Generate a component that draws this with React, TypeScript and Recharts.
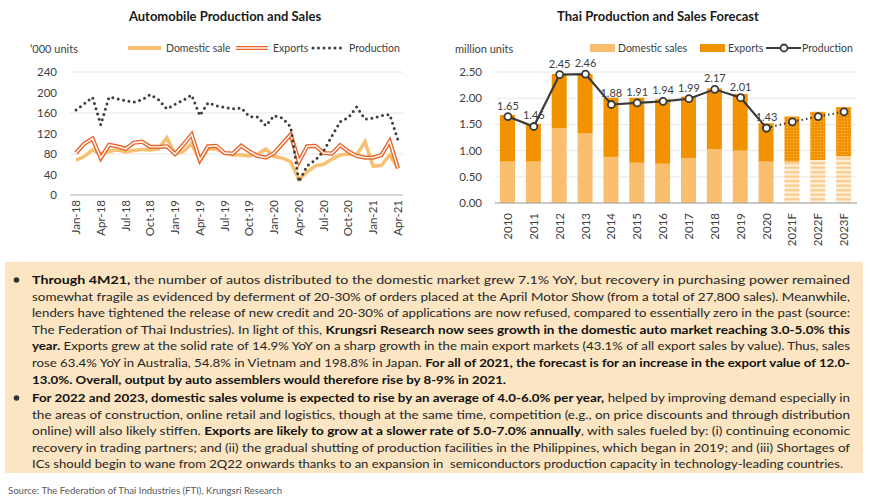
import React from 'react';
import {
  LineChart,
  Line,
  XAxis,
  YAxis,
  CartesianGrid,
  ComposedChart,
  Bar,
  Cell,
  LabelList,
} from 'recharts';

const FONT = "Lato, 'Open Sans', sans-serif";
const INK = '#404040';

// ---- left chart: monthly, '000 units
const months = [
  'Jan-18', 'Feb-18', 'Mar-18', 'Apr-18', 'May-18', 'Jun-18', 'Jul-18', 'Aug-18', 'Sep-18', 'Oct-18', 'Nov-18', 'Dec-18',
  'Jan-19', 'Feb-19', 'Mar-19', 'Apr-19', 'May-19', 'Jun-19', 'Jul-19', 'Aug-19', 'Sep-19', 'Oct-19', 'Nov-19', 'Dec-19',
  'Jan-20', 'Feb-20', 'Mar-20', 'Apr-20', 'May-20', 'Jun-20', 'Jul-20', 'Aug-20', 'Sep-20', 'Oct-20', 'Nov-20', 'Dec-20',
  'Jan-21', 'Feb-21', 'Mar-21', 'Apr-21',
];
const domesticSale = [
  68, 75, 88, 80, 85, 88, 84, 87, 89, 88, 90, 112,
  80, 85, 100, 66, 90, 90, 82, 78, 78, 76, 80, 90,
  75, 72, 65, 30, 45, 57, 60, 70, 78, 80, 78, 104,
  56, 58, 78, 52,
];
const exportsMonthly = [
  82, 100, 110, 72, 98, 95, 90, 102, 104, 94, 94, 95,
  80, 98, 118, 68, 95, 96, 82, 81, 96, 85, 76, 73,
  82, 100, 118, 65, 95, 96, 82, 81, 97, 85, 76, 73,
  73, 78, 105, 52,
];
const productionMonthly = [
  166, 178, 191, 137, 191, 188, 184, 181, 186, 196, 186, 168,
  177, 185, 195, 155, 180, 174, 171, 168, 170, 153, 152, 135,
  155, 150, 133, 26, 57, 68, 86, 115, 143, 151, 172, 148,
  150, 155, 157, 107,
];
const leftTicks = [0, 40, 80, 120, 160, 200, 240];

// ---- right chart: yearly, million units
const years = ['2010', '2011', '2012', '2013', '2014', '2015', '2016', '2017', '2018', '2019', '2020', '2021F', '2022F', '2023F'];
const forecastYears = ['2021F', '2022F', '2023F'];
const domesticSales = [0.79, 0.79, 1.43, 1.33, 0.88, 0.77, 0.75, 0.86, 1.03, 1.0, 0.79, 0.79, 0.82, 0.89];
const exportsYearly = [0.89, 0.72, 1.03, 1.13, 1.13, 1.24, 1.23, 1.17, 1.16, 1.08, 0.73, 0.86, 0.92, 0.94];
const productionActual = [1.65, 1.46, 2.45, 2.46, 1.88, 1.91, 1.94, 1.99, 2.17, 2.01, 1.43, null, null, null];
const productionForecast = [null, null, null, null, null, null, null, null, null, null, 1.43, 1.55, 1.65, 1.74];
const rightTicks = [0, 0.5, 1, 1.5, 2, 2.5];

const monthlyData = months.map((m, i) => ({
  month: m,
  domestic: domesticSale[i],
  exports: exportsMonthly[i],
  production: productionMonthly[i],
}));

const yearlyData = years.map((y, i) => ({
  year: y,
  domestic: domesticSales[i],
  exports: exportsYearly[i],
  prod: productionActual[i],
  prodF: productionForecast[i],
}));

// ---- commentary text, one entry per printed line
type Seg = [string, boolean];
const para1: Seg[][] = [
  [['Through 4M21,', true], [' the number of autos distributed to the domestic market grew 7.1% YoY, but recovery in purchasing power remained', false]],
  [['somewhat fragile as evidenced by deferment of 20-30% of orders placed at the April Motor Show (from a total of 27,800 sales). Meanwhile,', false]],
  [['lenders have tightened the release of new credit and 20-30% of applications are now refused, compared to essentially zero in the past (source:', false]],
  [['The Federation of Thai Industries). In light of this, ', false], ['Krungsri Research now sees growth in the domestic auto market reaching 3.0-5.0% this', true]],
  [['year.', true], [' Exports grew at the solid rate of 14.9% YoY on a sharp growth in the main export markets (43.1% of all export sales by value). Thus, sales', false]],
  [['rose 63.4% YoY in Australia, 54.8% in Vietnam and 198.8% in Japan. ', false], ['For all of 2021, the forecast is for an increase in the export value of 12.0-', true]],
  [['13.0%. Overall, output by auto assemblers would therefore rise by 8-9% in 2021.', true]],
];
const para2: Seg[][] = [
  [['For 2022 and 2023, domestic sales volume is expected to rise by an average of 4.0-6.0% per year,', true], [' helped by improving demand especially in', false]],
  [['the areas of construction, online retail and logistics, though at the same time, competition (e.g., on price discounts and through distribution', false]],
  [['online) will also likely stiffen. ', false], ['Exports are likely to grow at a slower rate of 5.0-7.0% annually', true], [', with sales fueled by: (i) continuing economic', false]],
  [['recovery in trading partners; and (ii) the gradual shutting of production facilities in the Philippines, which began in 2019; and (iii) Shortages of', false]],
  [['ICs should begin to wane from 2Q22 onwards thanks to an expansion in  semiconductors production capacity in technology-leading countries.', false]],
];

function RotatedTick(props: any) {
  const { x, y, payload } = props;
  return (
    <text
      x={x}
      y={y}
      transform={`rotate(-90 ${x} ${y})`}
      textAnchor="end"
      dy="0.35em"
      fontSize={11.5}
      fill={INK}
      fontFamily={FONT}
    >
      {payload.value}
    </text>
  );
}

// plain marker so the dashed forecast line does not dash the circle outline
function Marker(props: any) {
  const { cx, cy } = props;
  if (cx == null || cy == null) return null;
  return <circle cx={cx} cy={cy} r={3.5} fill="#fff" stroke="#3a3a3a" strokeWidth={1.8} />;
}

const abs = (left: number, top: number): React.CSSProperties => ({
  position: 'absolute',
  left,
  top,
  fontFamily: FONT,
  color: INK,
  whiteSpace: 'nowrap',
});

function LeftLegend() {
  return (
    <svg style={{ position: 'absolute', left: 0, top: 38 }} width={435} height={20}>
      <line x1={128} y1={10} x2={161} y2={10} stroke="#F8C070" strokeWidth={4} />
      <text x={166} y={13.5} fontSize={10.5} fill={INK} fontFamily={FONT}>Domestic sale</text>
      <line x1={236} y1={10} x2={268} y2={10} stroke="#E8672D" strokeWidth={4} />
      <line x1={236} y1={10} x2={268} y2={10} stroke="#fff" strokeWidth={1.4} />
      <text x={273} y={13.5} fontSize={10.5} fill={INK} fontFamily={FONT}>Exports</text>
      <line x1={313} y1={10} x2={342} y2={10} stroke="#3d3d3d" strokeWidth={3} strokeDasharray="0 5.5" strokeLinecap="round" />
      <text x={349} y={13.5} fontSize={10.5} fill={INK} fontFamily={FONT}>Production</text>
    </svg>
  );
}

function RightLegend() {
  return (
    <svg style={{ position: 'absolute', left: 435, top: 38 }} width={435} height={20}>
      <rect x={155} y={6} width={25} height={8} fill="#F9BE6E" />
      <text x={183} y={13.5} fontSize={10.5} fill={INK} fontFamily={FONT}>Domestic sales</text>
      <rect x={265} y={6} width={25} height={8} fill="#F39200" />
      <text x={293} y={13.5} fontSize={10.5} fill={INK} fontFamily={FONT}>Exports</text>
      <line x1={331} y1={10} x2={366} y2={10} stroke="#3a3a3a" strokeWidth={2.2} />
      <circle cx={349} cy={10} r={3.5} fill="#fff" stroke="#3a3a3a" strokeWidth={1.8} />
      <text x={367} y={13.5} fontSize={10.5} fill={INK} fontFamily={FONT}>Production</text>
    </svg>
  );
}

function AutoChart() {
  return (
    <div style={{ position: 'absolute', left: 0, top: 0 }}>
      <LineChart
        width={435}
        height={260}
        data={monthlyData}
        margin={{ top: 72, right: 32, left: 20, bottom: 15 }}
      >
        <CartesianGrid vertical={false} stroke="#e6e6e6" />
        <XAxis
          dataKey="month"
          interval={2}
          tick={<RotatedTick />}
          tickLine={false}
          tickSize={0}
          tickMargin={5}
          height={50}
          axisLine={{ stroke: '#bfbfbf' }}
          padding={{ left: 6, right: 5 }}
        />
        <YAxis
          domain={[0, 240]}
          ticks={leftTicks}
          width={50}
          axisLine={false}
          tickLine={false}
          tickSize={0}
          tickMargin={13}
          tick={{ fontSize: 11.5, fill: INK, fontFamily: FONT }}
        />
        <Line dataKey="domestic" stroke="#F8C070" strokeWidth={3.5} dot={false} isAnimationActive={false} />
        <Line dataKey="exports" stroke="#E8672D" strokeWidth={4.2} dot={false} isAnimationActive={false} />
        <Line dataKey="exports" stroke="#ffffff" strokeWidth={1.4} dot={false} isAnimationActive={false} />
        <Line
          dataKey="production"
          stroke="#3d3d3d"
          strokeWidth={3}
          strokeDasharray="0 5.5"
          strokeLinecap="round"
          dot={false}
          isAnimationActive={false}
        />
      </LineChart>
    </div>
  );
}

function ForecastChart() {
  const fmt = (v: any) => (v == null ? '' : Number(v).toFixed(2));
  return (
    <div style={{ position: 'absolute', left: 435, top: 0 }}>
      <ComposedChart
        width={435}
        height={260}
        data={yearlyData}
        margin={{ top: 72, right: 13, left: 15, bottom: 7 }}
        barSize={15}
      >
        <defs>
          <pattern id="domHatch" width={6} height={4.5} patternUnits="userSpaceOnUse">
            <rect width={6} height={4.5} fill="#FDF1DF" />
            <rect width={6} height={2.4} fill="#F9CD8F" />
          </pattern>
          <pattern id="expDots" width={3} height={3} patternUnits="userSpaceOnUse">
            <rect width={3} height={3} fill="#F39200" />
            <circle cx={1.5} cy={1.5} r={0.6} fill="#FAC56E" />
          </pattern>
        </defs>
        <CartesianGrid vertical={false} stroke="#e8e8e8" />
        <XAxis
          dataKey="year"
          interval={0}
          tick={<RotatedTick />}
          tickLine={false}
          tickSize={0}
          tickMargin={10}
          height={50}
          axisLine={{ stroke: '#a0a0a0' }}
        />
        <YAxis
          domain={[0, 2.5]}
          ticks={rightTicks}
          width={45}
          axisLine={false}
          tickLine={false}
          tickSize={0}
          tickMargin={13}
          tickFormatter={(v: number) => v.toFixed(2)}
          tick={{ fontSize: 11.5, fill: INK, fontFamily: FONT }}
        />
        <Bar dataKey="domestic" stackId="s" isAnimationActive={false}>
          {yearlyData.map((d) => (
            <Cell key={d.year} fill={forecastYears.includes(d.year) ? 'url(#domHatch)' : '#F9BE6E'} />
          ))}
        </Bar>
        <Bar dataKey="exports" stackId="s" isAnimationActive={false}>
          {yearlyData.map((d) => (
            <Cell key={d.year} fill={forecastYears.includes(d.year) ? 'url(#expDots)' : '#F39200'} />
          ))}
        </Bar>
        <Line
          dataKey="prodF"
          stroke="#3a3a3a"
          strokeWidth={2}
          strokeDasharray="1.5 3"
          dot={<Marker />}
          isAnimationActive={false}
        />
        <Line
          dataKey="prod"
          stroke="#3a3a3a"
          strokeWidth={2.2}
          dot={<Marker />}
          isAnimationActive={false}
        >
          <LabelList
            dataKey="prod"
            position="top"
            offset={7}
            formatter={fmt}
            style={{ fontSize: 11, fill: INK, fontFamily: FONT }}
          />
        </Line>
      </ComposedChart>
    </div>
  );
}

function Commentary() {
  const lineH = 16.6;
  const renderPara = (lines: Seg[][], baseY: number, lastWidth: number) =>
    lines.map((segs, i) => {
      const last = i === lines.length - 1;
      return (
        <text
          key={i}
          x={32}
          y={baseY + i * lineH}
          textLength={last ? lastWidth : 818}
          lengthAdjust="spacingAndGlyphs"
          fontSize={12}
          fontFamily={FONT}
          fill="#262626"
          style={{ whiteSpace: 'pre' }}
        >
          {segs.map(([t, b], j) => (
            <tspan key={j} fontWeight={b ? 700 : 400} fill={b ? '#111' : '#262626'}>
              {t}
            </tspan>
          ))}
        </text>
      );
    });
  return (
    <svg style={{ position: 'absolute', left: 0, top: 0 }} width={870} height={503}>
      <rect x={5} y={262} width={858} height={211} fill="#FBE5C2" />
      <circle cx={16.5} cy={280} r={2.8} fill="#333" />
      {renderPara(para1, 284, 474)}
      <circle cx={16.5} cy={398} r={2.8} fill="#333" />
      {renderPara(para2, 402, 811)}
      <text x={8} y={494} fontSize={9.5} fill="#595959" fontFamily={FONT} textLength={274} lengthAdjust="spacingAndGlyphs">
        Source: The Federation of  Thai Industries (FTI), Krungsri Research
      </text>
    </svg>
  );
}

export default function App() {
  return (
    <div
      style={{
        position: 'absolute',
        left: 0,
        top: 0,
        width: 870,
        height: 503,
        background: '#fff',
        overflow: 'hidden',
        fontFamily: FONT,
      }}
    >
      <div style={{ ...abs(0, 8), width: 450, textAlign: 'center', fontWeight: 700, fontSize: 13, color: '#1a1a1a' }}>
        Automobile Production and Sales
      </div>
      <div style={{ ...abs(435, 8), width: 446, textAlign: 'center', fontWeight: 700, fontSize: 13, color: '#1a1a1a' }}>
        Thai Production and Sales Forecast
      </div>
      <div style={{ ...abs(30, 42), fontSize: 11 }}>‘000 units</div>
      <div style={{ ...abs(455, 42), fontSize: 11 }}>million units</div>
      <LeftLegend />
      <RightLegend />
      <AutoChart />
      <ForecastChart />
      <Commentary />
    </div>
  );
}
